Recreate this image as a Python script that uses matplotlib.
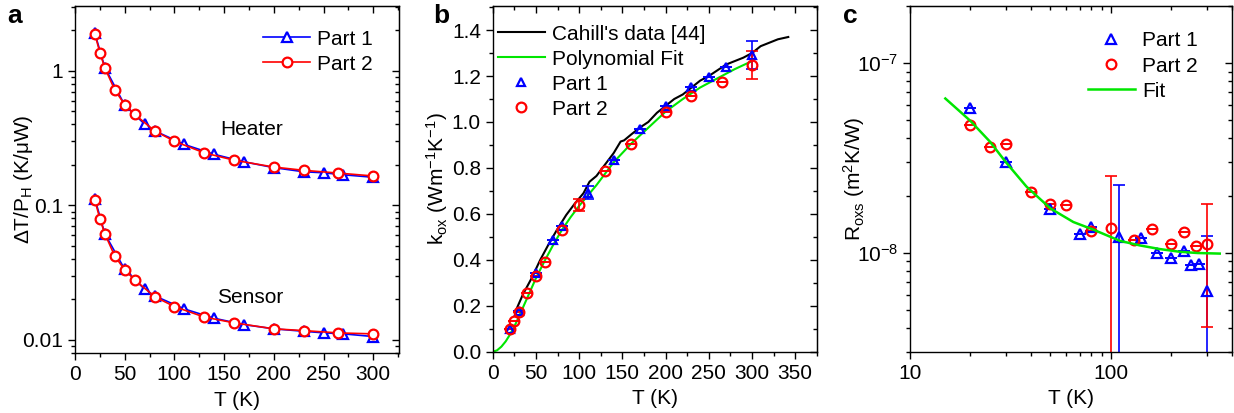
import matplotlib
matplotlib.use('Agg')
import matplotlib.pyplot as plt
import matplotlib.ticker as ticker
import numpy as np

plt.rcParams['font.family'] = ['Liberation Sans', 'DejaVu Sans']
plt.rcParams['mathtext.fontset'] = 'custom'
plt.rcParams['mathtext.rm'] = 'Liberation Sans'
plt.rcParams['mathtext.it'] = 'Liberation Sans:italic'
plt.rcParams['mathtext.bf'] = 'Liberation Sans:bold'
plt.rcParams['mathtext.default'] = 'regular'
plt.rcParams['axes.unicode_minus'] = False

FS = 15
BLUE = '#0000ff'
RED = '#ff0000'
GREEN = '#00e600'

# ---- panel a : dT/P_H vs T ----
t_p1 = [20, 30, 50, 70, 80, 110, 140, 170, 200, 230, 250, 270, 300]
t_p2 = [20, 25, 30, 40, 50, 60, 80, 100, 130, 160, 200, 230, 265, 300]

heater_p1 = [1.90, 1.06, 0.557, 0.402, 0.359, 0.284, 0.240, 0.211, 0.191, 0.178, 0.175, 0.169, 0.162]
heater_p2 = [1.877, 1.37, 1.053, 0.722, 0.561, 0.475, 0.359, 0.300, 0.246, 0.217, 0.193, 0.1825, 0.174, 0.1656]
sensor_p1 = [0.112, 0.0615, 0.0335, 0.0238, 0.0213, 0.0170, 0.0145, 0.0130, 0.0121, 0.0116, 0.0113, 0.0111, 0.0106]
sensor_p2 = [0.109, 0.0796, 0.0615, 0.042, 0.0332, 0.028, 0.021, 0.0177, 0.0148, 0.0134, 0.0121, 0.01174, 0.01128, 0.0111]

# ---- panel b : k_ox vs T ----
k_p1 = [0.101, 0.177, 0.344, 0.486, 0.547, 0.692, 0.834, 0.968, 1.069, 1.153, 1.194, 1.238, 1.291]
k_p2 = [0.097, 0.133, 0.174, 0.257, 0.329, 0.392, 0.530, 0.638, 0.786, 0.904, 1.042, 1.114, 1.172, 1.248]
kerr_p1 = [0, 0, 0, 0, 0, 0.028, 0, 0, 0, 0, 0, 0, 0.061]
kerr_p2 = [0, 0, 0, 0, 0, 0, 0, 0.027, 0, 0, 0, 0, 0, 0.060]

cahill_t = [28, 35, 45, 55, 65, 75, 85, 95, 105, 112, 120, 130, 140, 148, 152, 160, 170, 180,
            190, 200, 210, 220, 230, 240, 250, 260, 270, 280, 290, 300, 310, 320, 330, 342]
cahill_k = [0.19, 0.25, 0.32, 0.40, 0.47, 0.535, 0.595, 0.645, 0.69, 0.74, 0.765, 0.815, 0.865,
            0.915, 0.92, 0.945, 0.975, 1.0, 1.04, 1.07, 1.10, 1.12, 1.15, 1.18, 1.20, 1.225,
            1.25, 1.265, 1.28, 1.30, 1.33, 1.345, 1.36, 1.37]

fit_t = [0, 5, 10, 15, 20, 25, 30, 40, 50, 60, 70, 80, 90, 100, 120, 140, 160, 180, 200,
         220, 240, 260, 280, 300]
fit_k = [0, 0.006, 0.022, 0.045, 0.075, 0.11, 0.15, 0.235, 0.32, 0.395, 0.465, 0.53, 0.585,
         0.635, 0.725, 0.825, 0.905, 0.975, 1.045, 1.10, 1.15, 1.19, 1.23, 1.265]

# ---- panel c : R_oxs vs T ----
tc_p1 = [20, 30, 50, 70, 80, 110, 141, 170, 200, 231, 249, 273, 301]
r_p1 = [5.78e-8, 3.0e-8, 1.69e-8, 1.26e-8, 1.36e-8, 1.205e-8, 1.19e-8, 9.92e-9, 9.33e-9,
        1.02e-8, 8.6e-9, 8.7e-9, 6.27e-9]
rerr_p1 = [0, 0, 0, 0, 0, 1.08e-8, 0, 0, 0, 0, 0, 0, 6.0e-9]
tc_p2 = [20, 25, 30, 40, 50, 60, 80, 100, 130, 160, 200, 230, 266, 299]
r_p2 = [4.69e-8, 3.59e-8, 3.75e-8, 2.1e-8, 1.8e-8, 1.79e-8, 1.30e-8, 1.345e-8, 1.166e-8,
        1.34e-8, 1.107e-8, 1.277e-8, 1.09e-8, 1.107e-8]
rerr_p2 = [0, 0, 0, 0, 0, 0, 0, 1.2e-8, 0, 0, 0, 0, 0, 7.0e-9]

rfit_t = [15, 17.7, 20, 25, 30, 38, 50, 65, 82, 111, 140, 175, 220, 270, 348]
rfit_r = [6.5e-8, 5.56e-8, 4.95e-8, 3.85e-8, 3.0e-8, 2.23e-8, 1.71e-8, 1.45e-8, 1.32e-8,
          1.153e-8, 1.09e-8, 1.044e-8, 1.01e-8, 9.95e-9, 9.88e-9]


def mirror_ticks(ax, xloc=None, xminor=None, yloc=None, yminor=None):
    ax.tick_params(which='both', direction='out', top=False, right=False, labelsize=FS)
    ax.tick_params(which='major', length=5, width=1)
    ax.tick_params(which='minor', length=3, width=1)
    sx = ax.secondary_xaxis('top')
    sy = ax.secondary_yaxis('right')
    for s in (sx, sy):
        s.tick_params(which='both', direction='in', labeltop=False, labelright=False,
                      labelbottom=False, labelleft=False)
        s.tick_params(which='major', length=5, width=1)
        s.tick_params(which='minor', length=3, width=1)
    if xloc is not None:
        sx.xaxis.set_major_locator(xloc)
        sx.xaxis.set_minor_locator(xminor)
    if yloc is not None:
        sy.yaxis.set_major_locator(yloc)
        sy.yaxis.set_minor_locator(yminor)
    return sx, sy


leg_kw = dict(loc='upper left', frameon=False, fontsize=FS, handlelength=2.25,
              handletextpad=0.35, labelspacing=0.29, borderaxespad=0.2)

fig = plt.figure(figsize=(12.34, 4.13), dpi=100, facecolor='white')

ax0 = fig.add_axes([0.0608, 0.1453, 0.2626, 0.8402])
ax1 = fig.add_axes([0.3993, 0.1484, 0.2626, 0.8371])
ax2 = fig.add_axes([0.7374, 0.1484, 0.2609, 0.8371])

# panel a
ax0.set_yscale('log')
mk = dict(markersize=7, markeredgewidth=1.6, markerfacecolor='white', linewidth=1.2)
ax0.plot(t_p1, heater_p1, '-^', color=BLUE, label='Part 1', **mk)
ax0.plot(t_p2, heater_p2, '-o', color=RED, label='Part 2', **mk)
ax0.plot(t_p1, sensor_p1, '-^', color=BLUE, **mk)
ax0.plot(t_p2, sensor_p2, '-o', color=RED, **mk)
ax0.set_xlim(0, 326)
ax0.set_ylim(0.008, 3.04)
ax0.xaxis.set_major_locator(ticker.MultipleLocator(50))
ax0.xaxis.set_minor_locator(ticker.MultipleLocator(25))
ax0.yaxis.set_major_formatter(ticker.FuncFormatter(lambda v, p: '%g' % v))
ax0.yaxis.set_minor_formatter(ticker.NullFormatter())
mirror_ticks(ax0, ticker.MultipleLocator(50), ticker.MultipleLocator(25))
ax0.set_xlabel('T (K)', fontsize=FS, labelpad=5)
ax0.set_ylabel('ΔT/P$_H$ (K/μW)', fontsize=FS)
ax0.yaxis.set_label_coords(-0.125, 0.5)
ax0.text(178, 0.364, 'Heater', fontsize=FS, ha='center', va='center')
ax0.text(176, 0.0208, 'Sensor', fontsize=FS, ha='center', va='center')
ax0.legend(bbox_to_anchor=(0.5417, 0.9677), **leg_kw)

# panel b
mko = dict(linestyle='none', markeredgewidth=1.6, markerfacecolor='none')
ax1.plot(cahill_t, cahill_k, '-', color='black', linewidth=1.5, label="Cahill's data [44]")
ax1.plot(fit_t, fit_k, '-', color=GREEN, linewidth=1.5, label='Polynomial Fit')
ax1.errorbar(t_p1, k_p1, yerr=kerr_p1, fmt='none', ecolor=BLUE, elinewidth=1.2,
             capsize=4, capthick=1.2)
ax1.errorbar(t_p2, k_p2, yerr=kerr_p2, fmt='none', ecolor=RED, elinewidth=1.2,
             capsize=4, capthick=1.2)
ax1.plot(t_p1, k_p1, marker='^', color=BLUE, markersize=6, label='Part 1', **mko)
ax1.plot(t_p2, k_p2, marker='o', color=RED, markersize=7, label='Part 2', **mko)
ax1.set_xlim(0, 375)
ax1.set_ylim(0, 1.505)
ax1.xaxis.set_major_locator(ticker.MultipleLocator(50))
ax1.xaxis.set_minor_locator(ticker.MultipleLocator(25))
ax1.yaxis.set_major_locator(ticker.MultipleLocator(0.2))
ax1.yaxis.set_minor_locator(ticker.MultipleLocator(0.1))
ax1.yaxis.set_major_formatter(ticker.FormatStrFormatter('%.1f'))
mirror_ticks(ax1, ticker.MultipleLocator(50), ticker.MultipleLocator(25),
             ticker.MultipleLocator(0.2), ticker.MultipleLocator(0.1))
ax1.set_xlabel('T (K)', fontsize=FS, labelpad=5)
ax1.set_ylabel('k$_{ox}$ (Wm$^{-1}$K$^{-1}$)', fontsize=FS)
ax1.yaxis.set_label_coords(-0.132, 0.5)
ax1.legend(bbox_to_anchor=(-0.0222, 0.9826), **leg_kw)

# panel c
ax2.set_xscale('log')
ax2.set_yscale('log')
ax2.errorbar(tc_p1, r_p1, yerr=rerr_p1, fmt='none', ecolor=BLUE, elinewidth=1.2,
             capsize=4, capthick=1.2)
ax2.errorbar(tc_p2, r_p2, yerr=rerr_p2, fmt='none', ecolor=RED, elinewidth=1.2,
             capsize=4, capthick=1.2)
h1, = ax2.plot(tc_p1, r_p1, marker='^', color=BLUE, markersize=7, label='Part 1', **mko)
h2, = ax2.plot(tc_p2, r_p2, marker='o', color=RED, markersize=7, label='Part 2', **mko)
h3, = ax2.plot(rfit_t, rfit_r, '-', color=GREEN, linewidth=1.8, label='Fit')
ax2.set_xlim(10, 400)
ax2.set_ylim(3.0e-9, 2.0e-7)
ax2.xaxis.set_major_formatter(ticker.FuncFormatter(lambda v, p: '%g' % v))
ax2.xaxis.set_minor_formatter(ticker.NullFormatter())
ax2.yaxis.set_minor_formatter(ticker.NullFormatter())
mirror_ticks(ax2)
ax2.set_xlabel('T (K)', fontsize=FS, labelpad=5)
ax2.set_ylabel('R$_{oxs}$ (m$^2$K/W)', fontsize=FS)
ax2.yaxis.set_label_coords(-0.134, 0.5)
ax2.legend([h1, h2, h3], ['Part 1', 'Part 2', 'Fit'], bbox_to_anchor=(0.514, 0.9624),
           **leg_kw)

for ax in (ax0, ax1, ax2):
    for sp in ax.spines.values():
        sp.set_linewidth(1.0)

fig.text(7 / 1234., 1 - 4 / 413., 'a', fontsize=19, fontweight='bold', va='top')
fig.text(433 / 1234., 1 - 4 / 413., 'b', fontsize=19, fontweight='bold', va='top')
fig.text(843 / 1234., 1 - 4 / 413., 'c', fontsize=19, fontweight='bold', va='top')

fig.savefig('out.png', dpi=100)
